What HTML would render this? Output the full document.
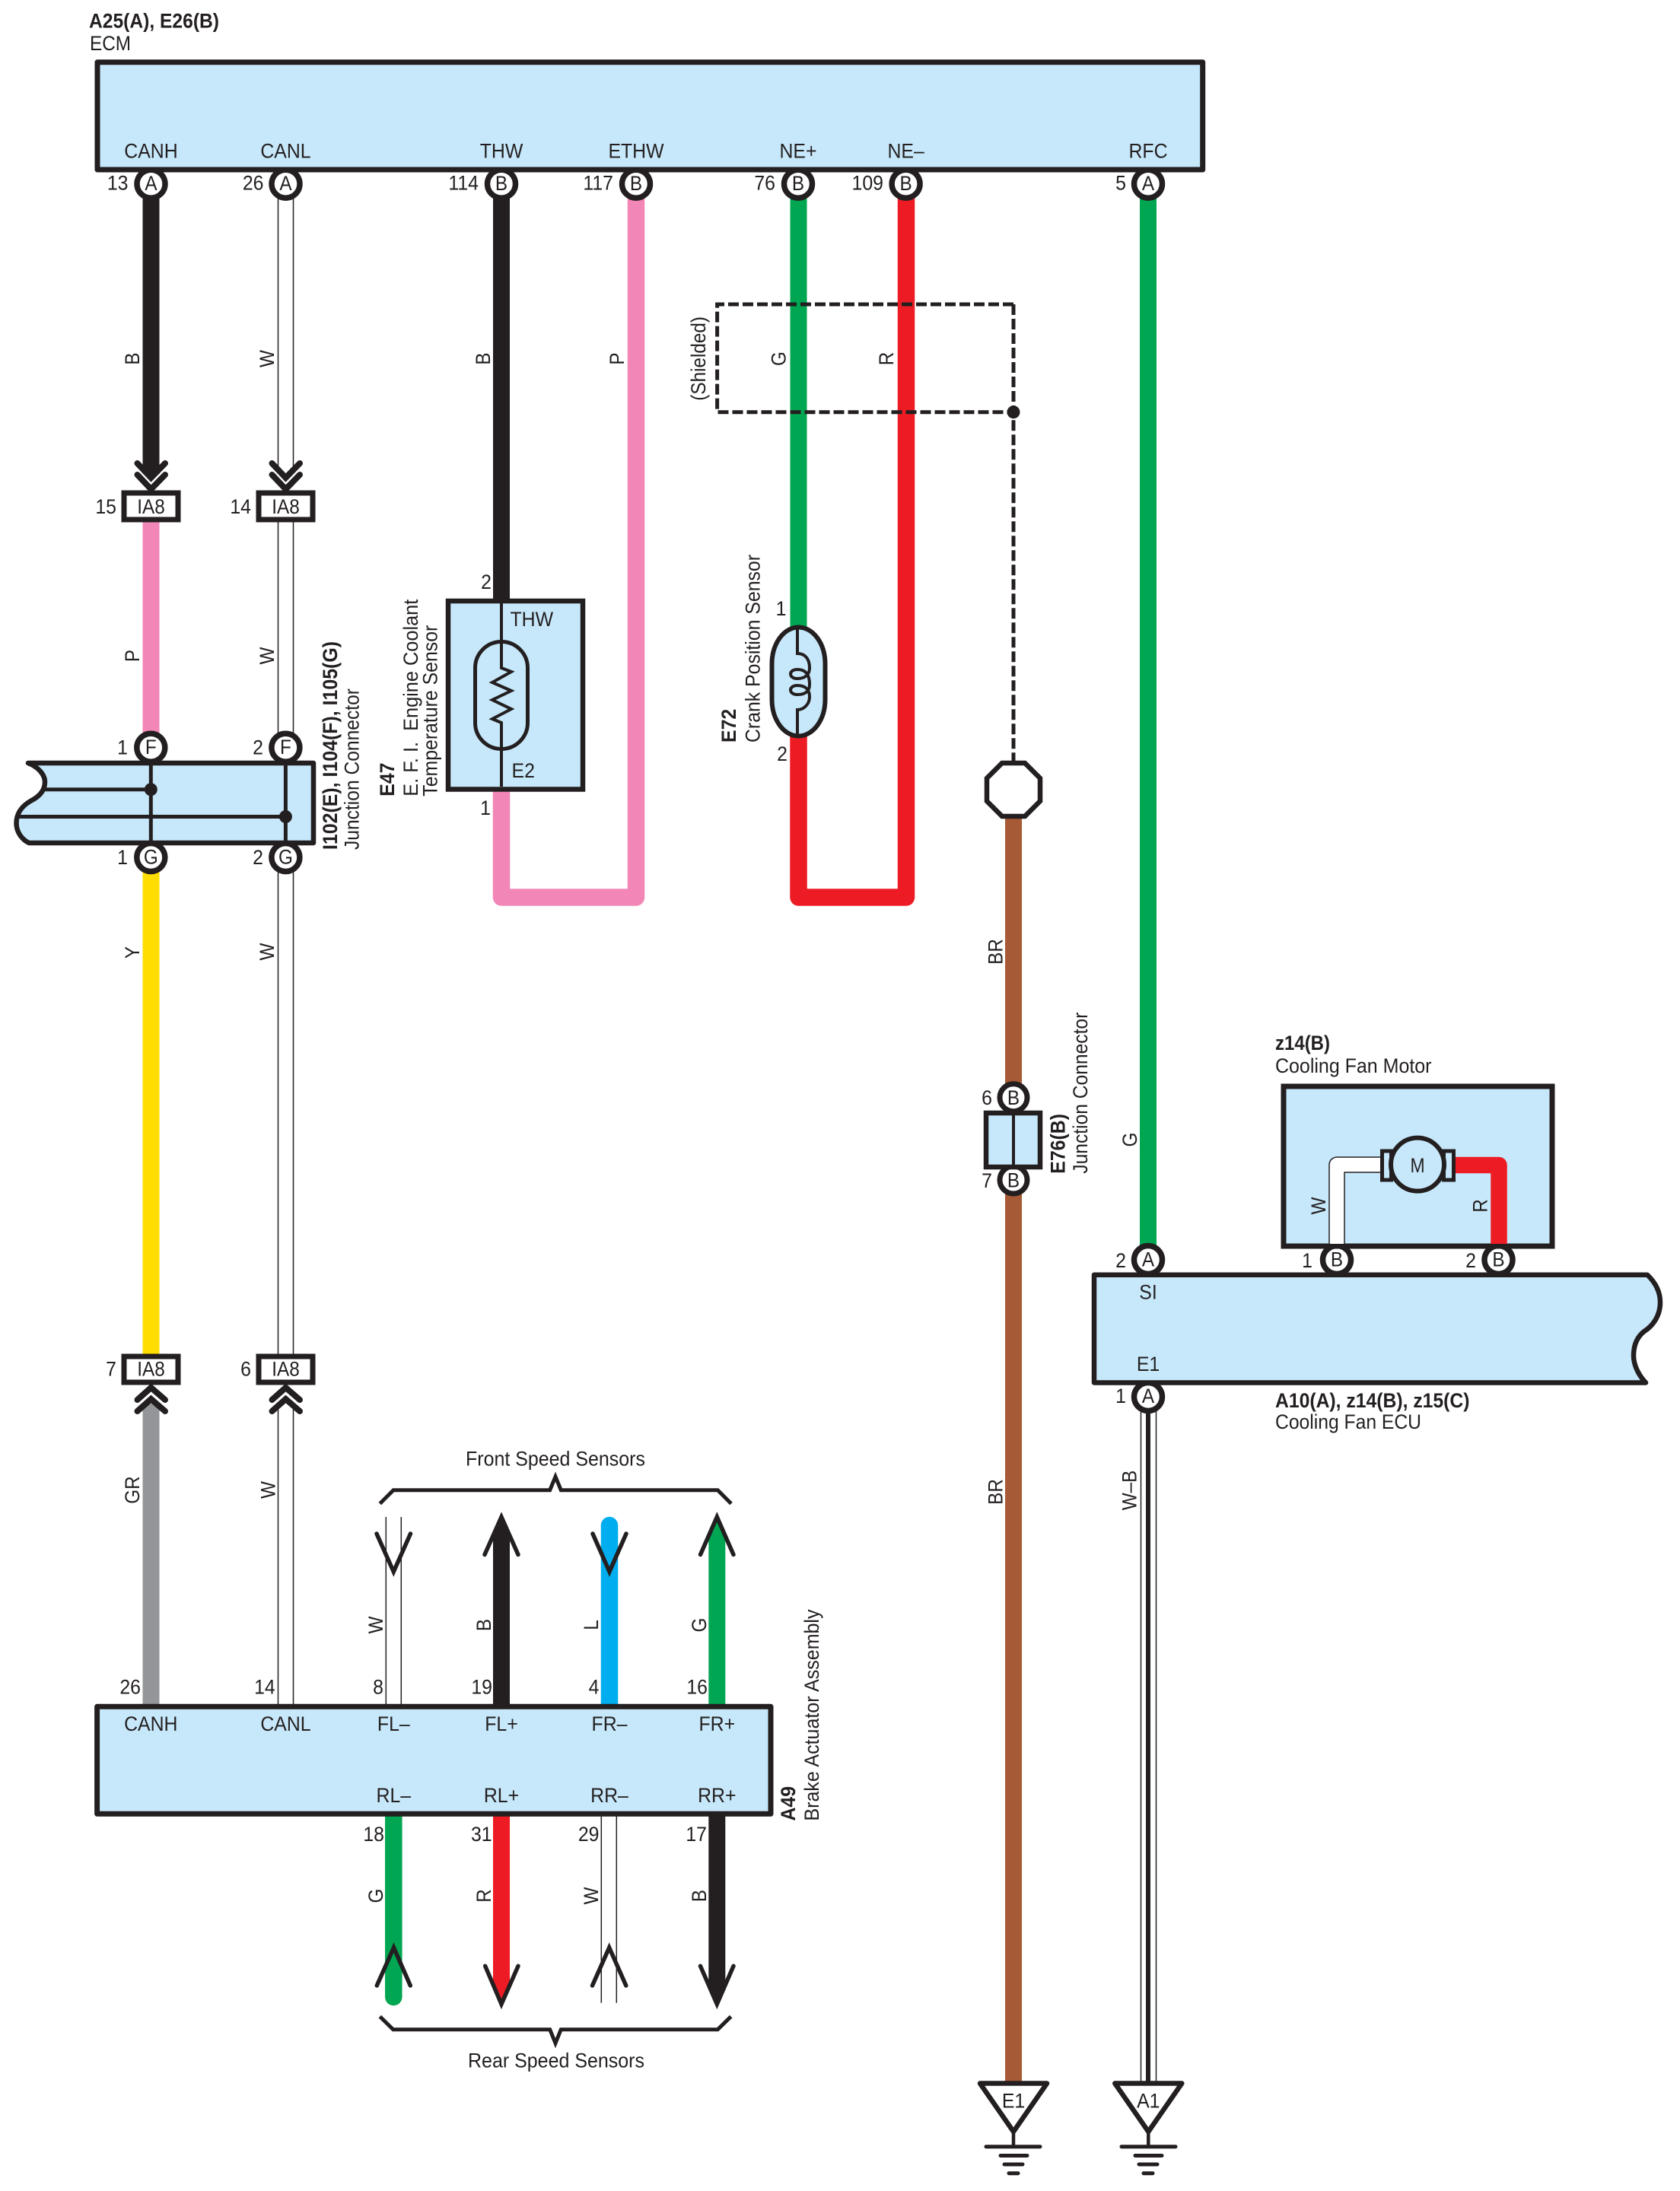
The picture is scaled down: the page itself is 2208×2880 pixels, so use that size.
<!DOCTYPE html>
<html lang="en">
<head>
<meta charset="utf-8">
<title>ECM wiring diagram</title>
<style>
html,body{margin:0;padding:0;background:#fff}
svg{display:block}
text{font-family:"Liberation Sans",Arial,sans-serif;font-size:27px;fill:#231F20}
.m{text-anchor:middle}
.e{text-anchor:end}
.b{font-weight:bold}
.box{fill:#C7E8FA;stroke:#231F20;stroke-width:7;stroke-linejoin:round}
.pin{fill:#fff;stroke:#231F20;stroke-width:7.5}
.thin{fill:none;stroke:#231F20;stroke-width:1.5}
.ln{fill:none;stroke:#231F20;stroke-width:5.5;stroke-linecap:round;stroke-linejoin:miter}
.chev{fill:none;stroke:#231F20;stroke-width:8;stroke-linecap:round;stroke-linejoin:miter}
</style>
</head>
<body>
<svg xmlns="http://www.w3.org/2000/svg" width="2208" height="2880" viewBox="0 0 2208 2880">
<rect width="2208" height="2880" fill="#fff"/>

<!-- wires upper left -->
<rect x="187.5" y="255" width="22" height="368" fill="#231F20"/>
<path class="thin" d="M365.5,255V618M385.5,255V618"/>
<rect x="648" y="255" width="22" height="540" fill="#231F20"/>
<rect x="187.5" y="680" width="22" height="300" fill="#F287B7"/>
<path class="thin" d="M365.5,680V970M385.5,680V970"/>
<rect x="187.5" y="1140" width="22" height="645" fill="#FFDD00"/>
<path class="thin" d="M365.5,1140V1785M385.5,1140V1785"/>
<rect x="187.5" y="1845" width="22" height="397" fill="#939598"/>
<path class="thin" d="M365.5,1848V2242M385.5,1848V2242"/>

<!-- pink and red loops -->
<path d="M659,1035V1179.5H836V255" fill="none" stroke="#F287B7" stroke-width="22.5" stroke-linejoin="round"/>
<path d="M1049.5,965V1179.5H1191V255" fill="none" stroke="#ED1C24" stroke-width="22.5" stroke-linejoin="round"/>
<rect x="1038.5" y="255" width="22" height="575" fill="#00A651"/>

<!-- RFC and grounds -->
<rect x="1498" y="255" width="22" height="1385" fill="#00A651"/>
<rect x="1321" y="1070" width="22" height="1667" fill="#A65A35"/>
<path class="thin" d="M1499.5,1850V2737M1519.5,1850V2737"/>
<rect x="1506" y="1850" width="6" height="887" fill="#231F20"/>

<!-- shield -->
<path d="M1332,400H942.6V541.7H1332V1003" fill="none" stroke="#231F20" stroke-width="5" stroke-dasharray="14 5"/>
<path d="M1332,400V541.7" fill="none" stroke="#231F20" stroke-width="5" stroke-dasharray="14 5"/>
<circle cx="1332" cy="541.7" r="8.5" fill="#231F20"/>

<!-- ECM pins then box -->
<circle class="pin" cx="198.5" cy="241.7" r="18.5"/>
<circle class="pin" cx="375.5" cy="241.7" r="18.5"/>
<circle class="pin" cx="659" cy="241.7" r="18.5"/>
<circle class="pin" cx="836" cy="241.7" r="18.5"/>
<circle class="pin" cx="1049" cy="241.7" r="18.5"/>
<circle class="pin" cx="1190.6" cy="241.7" r="18.5"/>
<circle class="pin" cx="1509" cy="241.7" r="18.5"/>
<rect class="box" x="128" y="81.7" width="1452.7" height="141.3"/>

<text transform="translate(117,36.7)" class="b" textLength="171" lengthAdjust="spacingAndGlyphs">A25(A), E26(B)</text>
<text transform="translate(118,66) scale(.9,1)">ECM</text>
<text class="m" transform="translate(198.5,207.5) scale(.92,1)">CANH</text>
<text class="m" transform="translate(375.5,207.5) scale(.92,1)">CANL</text>
<text class="m" transform="translate(659,207.5) scale(.92,1)">THW</text>
<text class="m" transform="translate(836,207.5) scale(.92,1)">ETHW</text>
<text class="m" transform="translate(1049,207.5) scale(.92,1)">NE+</text>
<text class="m" transform="translate(1190.6,207.5) scale(.92,1)">NE–</text>
<text class="m" transform="translate(1509,207.5) scale(.92,1)">RFC</text>
<text class="m" transform="translate(198.5,250) scale(.9,1)">A</text>
<text class="m" transform="translate(375.5,250) scale(.9,1)">A</text>
<text class="m" transform="translate(659,250) scale(.9,1)">B</text>
<text class="m" transform="translate(836,250) scale(.9,1)">B</text>
<text class="m" transform="translate(1049,250) scale(.9,1)">B</text>
<text class="m" transform="translate(1190.6,250) scale(.9,1)">B</text>
<text class="m" transform="translate(1509,250) scale(.9,1)">A</text>
<text class="e" transform="translate(168.5,249.3) scale(.92,1)">13</text>
<text class="e" transform="translate(346.5,249.3) scale(.92,1)">26</text>
<text class="e" transform="translate(629,249.3) scale(.92,1)">114</text>
<text class="e" transform="translate(806,249.3) scale(.92,1)">117</text>
<text class="e" transform="translate(1019,249.3) scale(.92,1)">76</text>
<text class="e" transform="translate(1161,249.3) scale(.92,1)">109</text>
<text class="e" transform="translate(1480,249.3) scale(.92,1)">5</text>

<!-- wire labels top -->
<text class="m" transform="translate(183,471.5) rotate(-90) scale(.9,1)">B</text>
<text class="m" transform="translate(360,471.5) rotate(-90) scale(.9,1)">W</text>
<text class="m" transform="translate(644,471.5) rotate(-90) scale(.9,1)">B</text>
<text class="m" transform="translate(820,471.5) rotate(-90) scale(.9,1)">P</text>
<text class="m" transform="translate(1032.6,471.5) rotate(-90) scale(.9,1)">G</text>
<text class="m" transform="translate(1174,471.5) rotate(-90) scale(.9,1)">R</text>
<text transform="translate(927,526.7) rotate(-90)" textLength="110.7" lengthAdjust="spacingAndGlyphs">(Shielded)</text>

<!-- chevrons and IA8 upper -->
<path class="chev" d="M180.5,609L198.5,628L217,609M180.5,624L198.5,643L217,624"/>
<path class="chev" d="M357.5,609L375.5,628L394,609M357.5,624L375.5,643L394,624"/>
<rect x="163" y="648" width="71" height="35" fill="#fff" stroke="#231F20" stroke-width="7"/>
<rect x="340" y="648" width="71" height="35" fill="#fff" stroke="#231F20" stroke-width="7"/>
<text class="m" transform="translate(198.5,675) scale(.9,1)">IA8</text>
<text class="m" transform="translate(375.5,675) scale(.9,1)">IA8</text>
<text class="e" transform="translate(153,675) scale(.92,1)">15</text>
<text class="e" transform="translate(330,675) scale(.92,1)">14</text>
<text class="m" transform="translate(183,862) rotate(-90) scale(.9,1)">P</text>
<text class="m" transform="translate(360,862) rotate(-90) scale(.9,1)">W</text>

<!-- junction connector -->
<circle class="pin" cx="198.3" cy="982.7" r="18.5"/>
<circle class="pin" cx="375.4" cy="982.7" r="18.5"/>
<circle class="pin" cx="198.3" cy="1127" r="18.5"/>
<circle class="pin" cx="375.4" cy="1127" r="18.5"/>
<path d="M412,1003H37C50,1008 59,1018 59,1028C59,1040 50,1048 40,1053C28,1060 21.5,1070 21.5,1082C21.5,1093 28,1103 38,1108H412Z" fill="#C7E8FA" stroke="#231F20" stroke-width="6.5" stroke-linejoin="round"/>
<path d="M198.3,1003V1108M375.4,1003V1108M59,1037.7H198M23,1073.5H375" fill="none" stroke="#231F20" stroke-width="5"/>
<circle cx="198.3" cy="1037.7" r="8.5" fill="#231F20"/>
<circle cx="375.4" cy="1073.5" r="8.5" fill="#231F20"/>
<text class="m" transform="translate(198.3,991) scale(.9,1)">F</text>
<text class="m" transform="translate(375.4,991) scale(.9,1)">F</text>
<text class="m" transform="translate(198.3,1135.5) scale(.9,1)">G</text>
<text class="m" transform="translate(375.4,1135.5) scale(.9,1)">G</text>
<text class="e" transform="translate(168,991.5) scale(.92,1)">1</text>
<text class="e" transform="translate(346,991.5) scale(.92,1)">2</text>
<text class="e" transform="translate(168,1136) scale(.92,1)">1</text>
<text class="e" transform="translate(346,1136) scale(.92,1)">2</text>
<text class="b" transform="translate(443,1117) rotate(-90)" textLength="274" lengthAdjust="spacingAndGlyphs">I102(E), I104(F), I105(G)</text>
<text transform="translate(471.5,1117) rotate(-90)" textLength="212" lengthAdjust="spacingAndGlyphs">Junction Connector</text>
<text class="m" transform="translate(183,1252) rotate(-90) scale(.9,1)">Y</text>
<text class="m" transform="translate(360,1251) rotate(-90) scale(.9,1)">W</text>

<!-- E47 -->
<rect x="589" y="790" width="177" height="247.5" fill="#C7E8FA" stroke="#231F20" stroke-width="6.5"/>
<rect x="624.5" y="843.5" width="69" height="141" rx="34.5" ry="34.5" fill="none" stroke="#231F20" stroke-width="5"/>
<path d="M659,793V878L672,883L647,897L672,908L647,920L672,932L647,945L659,950V1034" fill="none" stroke="#231F20" stroke-width="4"/>
<text transform="translate(670.5,823) scale(.92,1)">THW</text>
<text transform="translate(672.5,1022) scale(.92,1)">E2</text>
<text class="e" transform="translate(646,774) scale(.92,1)">2</text>
<text class="e" transform="translate(645,1071) scale(.92,1)">1</text>
<text class="b" transform="translate(518,1046.7) rotate(-90) scale(.92,1)">E47</text>
<text transform="translate(549,1046.7) rotate(-90)" textLength="259" lengthAdjust="spacingAndGlyphs">E. F. I.&#160; Engine Coolant</text>
<text transform="translate(574.5,1046.7) rotate(-90)" textLength="225" lengthAdjust="spacingAndGlyphs">Temperature Sensor</text>

<!-- E72 -->
<rect x="1014.5" y="824.5" width="70" height="143" rx="35" ry="48" fill="#C7E8FA" stroke="#231F20" stroke-width="6"/>
<path d="M1048,826V859C1058,859 1064,866 1064,878C1064,885 1060,892 1048,892C1036,892 1036,880 1048,880C1060,880 1064,888 1064,900C1064,907 1060,913 1048,913C1036,913 1036,901 1048,901C1060,901 1064,908 1064,916C1064,926 1056,933 1048,933V966" fill="none" stroke="#231F20" stroke-width="4"/>
<text class="e" transform="translate(1033.5,809) scale(.92,1)">1</text>
<text class="e" transform="translate(1035,1000) scale(.92,1)">2</text>
<text class="b" transform="translate(967,976) rotate(-90) scale(.92,1)">E72</text>
<text transform="translate(998.7,976) rotate(-90)" textLength="247" lengthAdjust="spacingAndGlyphs">Crank Position Sensor</text>

<!-- octagon, E76 -->
<polygon points="1317,1003 1347,1003 1367,1023 1367,1053 1347,1073 1317,1073 1297,1053 1297,1023" fill="#fff" stroke="#231F20" stroke-width="6.5" stroke-linejoin="miter"/>
<circle class="pin" cx="1332" cy="1442.7" r="18" style="stroke-width:7"/>
<circle class="pin" cx="1332" cy="1551" r="18" style="stroke-width:7"/>
<rect x="1296" y="1463" width="71" height="71" fill="#C7E8FA" stroke="#231F20" stroke-width="6.5"/>
<rect x="1330" y="1463" width="4" height="71" fill="#231F20"/>
<text class="m" transform="translate(1332,1452) scale(.9,1)">B</text>
<text class="m" transform="translate(1332,1560.5) scale(.9,1)">B</text>
<text class="e" transform="translate(1304,1452) scale(.92,1)">6</text>
<text class="e" transform="translate(1304,1561) scale(.92,1)">7</text>
<text class="m" transform="translate(1317.4,1251) rotate(-90) scale(.9,1)">BR</text>
<text class="m" transform="translate(1317.4,1961) rotate(-90) scale(.9,1)">BR</text>
<text class="b" transform="translate(1399.5,1542.7) rotate(-90) scale(.92,1)">E76(B)</text>
<text transform="translate(1429,1542.7) rotate(-90)" textLength="212" lengthAdjust="spacingAndGlyphs">Junction Connector</text>
<text class="m" transform="translate(1494,1498) rotate(-90) scale(.9,1)">G</text>

<!-- cooling fan -->
<circle class="pin" cx="1509" cy="1656" r="18.5"/>
<circle class="pin" cx="1757" cy="1656" r="18.5"/>
<circle class="pin" cx="1969.5" cy="1656" r="18.5"/>
<circle class="pin" cx="1509" cy="1836" r="18.5"/>
<rect x="1687" y="1428" width="353" height="210" fill="#C7E8FA" stroke="#231F20" stroke-width="7"/>
<path d="M1757,1635V1531H1820" fill="none" stroke="#231F20" stroke-width="21.5" stroke-linejoin="round"/>
<path d="M1757,1635V1531H1820" fill="none" stroke="#fff" stroke-width="18.5" stroke-linejoin="round"/>
<path d="M1905,1531.5H1970V1635" fill="none" stroke="#ED1C24" stroke-width="21.5" stroke-linejoin="round"/>
<rect x="1816.5" y="1513" width="12" height="38" fill="#C7E8FA" stroke="#231F20" stroke-width="5"/>
<rect x="1897.5" y="1513" width="13" height="38" fill="#C7E8FA" stroke="#231F20" stroke-width="5"/>
<circle cx="1863" cy="1530.6" r="35" fill="#C7E8FA" stroke="#231F20" stroke-width="6"/>
<text class="m" transform="translate(1863,1541) scale(.85,1)">M</text>
<path d="M1438,1675.7H2165C2178,1688 2182,1700 2182,1712C2182,1730 2172,1743 2161,1750C2152,1757 2147,1768 2147,1782C2147,1795 2154,1808 2163,1817.5H1438Z" fill="#C7E8FA" stroke="#231F20" stroke-width="6.5" stroke-linejoin="round"/>
<text class="m" transform="translate(1509,1707.6) scale(.92,1)">SI</text>
<text class="m" transform="translate(1509,1802) scale(.92,1)">E1</text>
<text class="m" transform="translate(1509,1664.5) scale(.9,1)">A</text>
<text class="m" transform="translate(1757,1664.5) scale(.9,1)">B</text>
<text class="m" transform="translate(1969.5,1664.5) scale(.9,1)">B</text>
<text class="m" transform="translate(1509,1844) scale(.9,1)">A</text>
<text class="e" transform="translate(1480,1666) scale(.92,1)">2</text>
<text class="e" transform="translate(1725,1666) scale(.92,1)">1</text>
<text class="e" transform="translate(1940,1666) scale(.92,1)">2</text>
<text class="e" transform="translate(1480,1844) scale(.92,1)">1</text>
<text class="m" transform="translate(1742,1585) rotate(-90) scale(.9,1)">W</text>
<text class="m" transform="translate(1954.6,1585) rotate(-90) scale(.9,1)">R</text>
<text class="b" transform="translate(1676,1380)" textLength="72" lengthAdjust="spacingAndGlyphs">z14(B)</text>
<text transform="translate(1676,1410)" textLength="205.5" lengthAdjust="spacingAndGlyphs">Cooling Fan Motor</text>
<text class="b" transform="translate(1676,1850)" textLength="255.5" lengthAdjust="spacingAndGlyphs">A10(A), z14(B), z15(C)</text>
<text transform="translate(1676,1878)" textLength="192" lengthAdjust="spacingAndGlyphs">Cooling Fan ECU</text>
<text class="m" transform="translate(1493.3,1959) rotate(-90) scale(.9,1)">W–B</text>

<!-- lower IA8 -->
<rect x="163" y="1783" width="71" height="34" fill="#fff" stroke="#231F20" stroke-width="7"/>
<rect x="340" y="1783" width="71" height="34" fill="#fff" stroke="#231F20" stroke-width="7"/>
<path class="chev" d="M180.5,1840L198.5,1824L217,1840M180.5,1855L198.5,1839L217,1855"/>
<path class="chev" d="M357.5,1840L375.5,1824L394,1840M357.5,1855L375.5,1839L394,1855"/>
<text class="m" transform="translate(198.5,1808.5) scale(.9,1)">IA8</text>
<text class="m" transform="translate(375.5,1808.5) scale(.9,1)">IA8</text>
<text class="e" transform="translate(153,1808.5) scale(.92,1)">7</text>
<text class="e" transform="translate(330,1808.5) scale(.92,1)">6</text>
<text class="m" transform="translate(183,1958.6) rotate(-90) scale(.9,1)">GR</text>
<text class="m" transform="translate(361.5,1958.6) rotate(-90) scale(.9,1)">W</text>

<!-- front sensors wires -->
<path class="thin" d="M507.3,1994V2242M527.3,1994V2242"/>
<polygon points="648,2242 648,2019 659,1994 670,2019 670,2242" fill="#231F20"/>
<path d="M801,2005V2242" fill="none" stroke="#00AEEF" stroke-width="22.5" stroke-linecap="round"/>
<polygon points="931.3,2242 931.3,2019 942.3,1994 953.3,2019 953.3,2242" fill="#00A651"/>
<path class="ln" d="M495,2016L517.3,2066L539.5,2016"/>
<path class="ln" d="M637,2043.5L659,1994L681,2043.5"/>
<path class="ln" d="M779,2016L801,2066L823,2016"/>
<path class="ln" d="M920.5,2043.5L942.3,1994L964,2043.5"/>

<!-- rear sensors wires -->
<path d="M517.3,2386V2625" fill="none" stroke="#00A651" stroke-width="22.5" stroke-linecap="round"/>
<polygon points="648,2386 670,2386 670,2609 659,2634 648,2609" fill="#ED1C24"/>
<path class="thin" d="M790.3,2386V2632.7M810.3,2386V2632.7"/>
<polygon points="931.3,2386 953.3,2386 953.3,2609 942.3,2634 931.3,2609" fill="#231F20"/>
<path class="ln" d="M495.3,2610L517.5,2560L539.3,2610"/>
<path class="ln" d="M637.7,2584.3L659,2634.3L681,2584.3"/>
<path class="ln" d="M778.5,2610L800.7,2560L822.8,2610"/>
<path class="ln" d="M920.5,2584.3L942.3,2634.3L964,2584.3"/>

<!-- brake box -->
<rect class="box" x="127.6" y="2243.3" width="885.4" height="141"/>
<text class="m" transform="translate(198.3,2275) scale(.92,1)">CANH</text>
<text class="m" transform="translate(375.5,2275) scale(.92,1)">CANL</text>
<text class="m" transform="translate(517.3,2275) scale(.92,1)">FL–</text>
<text class="m" transform="translate(659,2275) scale(.92,1)">FL+</text>
<text class="m" transform="translate(801,2275) scale(.92,1)">FR–</text>
<text class="m" transform="translate(942.3,2275) scale(.92,1)">FR+</text>
<text class="m" transform="translate(517.3,2369) scale(.92,1)">RL–</text>
<text class="m" transform="translate(659,2369) scale(.92,1)">RL+</text>
<text class="m" transform="translate(801,2369) scale(.92,1)">RR–</text>
<text class="m" transform="translate(942.3,2369) scale(.92,1)">RR+</text>
<text class="e" transform="translate(185,2226.7) scale(.92,1)">26</text>
<text class="e" transform="translate(361.7,2226.7) scale(.92,1)">14</text>
<text class="e" transform="translate(504,2226.7) scale(.92,1)">8</text>
<text class="e" transform="translate(647,2226.7) scale(.92,1)">19</text>
<text class="e" transform="translate(787.5,2226.7) scale(.92,1)">4</text>
<text class="e" transform="translate(930,2226.7) scale(.92,1)">16</text>
<text class="e" transform="translate(505,2420) scale(.92,1)">18</text>
<text class="e" transform="translate(646.6,2420) scale(.92,1)">31</text>
<text class="e" transform="translate(787.5,2420) scale(.92,1)">29</text>
<text class="e" transform="translate(929,2420) scale(.92,1)">17</text>
<text class="m" transform="translate(503,2136) rotate(-90) scale(.9,1)">W</text>
<text class="m" transform="translate(645,2136) rotate(-90) scale(.9,1)">B</text>
<text class="m" transform="translate(786,2136) rotate(-90) scale(.9,1)">L</text>
<text class="m" transform="translate(928,2136) rotate(-90) scale(.9,1)">G</text>
<text class="m" transform="translate(503,2492) rotate(-90) scale(.9,1)">G</text>
<text class="m" transform="translate(645,2492) rotate(-90) scale(.9,1)">R</text>
<text class="m" transform="translate(786,2492) rotate(-90) scale(.9,1)">W</text>
<text class="m" transform="translate(928,2492) rotate(-90) scale(.9,1)">B</text>
<text class="b" transform="translate(1045,2393.5) rotate(-90) scale(.92,1)">A49</text>
<text transform="translate(1076,2393.5) rotate(-90)" textLength="278" lengthAdjust="spacingAndGlyphs">Brake Actuator Assembly</text>

<!-- braces -->
<path d="M499.3,1976.5L517,1958.7H722.7L730,1941L737.3,1958.7H943.3L961,1976.5" fill="none" stroke="#231F20" stroke-width="5"/>
<path d="M499.3,2650.7L516.7,2667.7H722.7L730,2685.7L737.3,2667.7H943.3L960.7,2650.7" fill="none" stroke="#231F20" stroke-width="5"/>
<text transform="translate(612,1926.7)" textLength="236" lengthAdjust="spacingAndGlyphs">Front Speed Sensors</text>
<text transform="translate(615,2717.7)" textLength="232" lengthAdjust="spacingAndGlyphs">Rear Speed Sensors</text>

<!-- grounds -->
<g fill="none" stroke="#231F20">
<polygon points="1288,2738.5 1376,2738.5 1332,2802" fill="#fff" stroke-width="6.5" stroke-linejoin="round"/>
<path d="M1332,2803V2822" stroke-width="4.5"/>
<path d="M1296,2821.7H1367M1315,2833.5H1350M1320,2845H1344M1326,2856.7H1338" stroke-width="5" stroke-linecap="round"/>
<polygon points="1465.3,2738.5 1553.3,2738.5 1509.3,2802" fill="#fff" stroke-width="6.5" stroke-linejoin="round"/>
<path d="M1509.3,2803V2822" stroke-width="4.5"/>
<path d="M1474,2821.7H1545M1492,2833.5H1527M1497,2845H1521M1503,2856.7H1515" stroke-width="5" stroke-linecap="round"/>
</g>
<text class="m" transform="translate(1332,2770.7) scale(.92,1)">E1</text>
<text class="m" transform="translate(1509.3,2770.7) scale(.92,1)">A1</text>
</svg>
</body>
</html>
